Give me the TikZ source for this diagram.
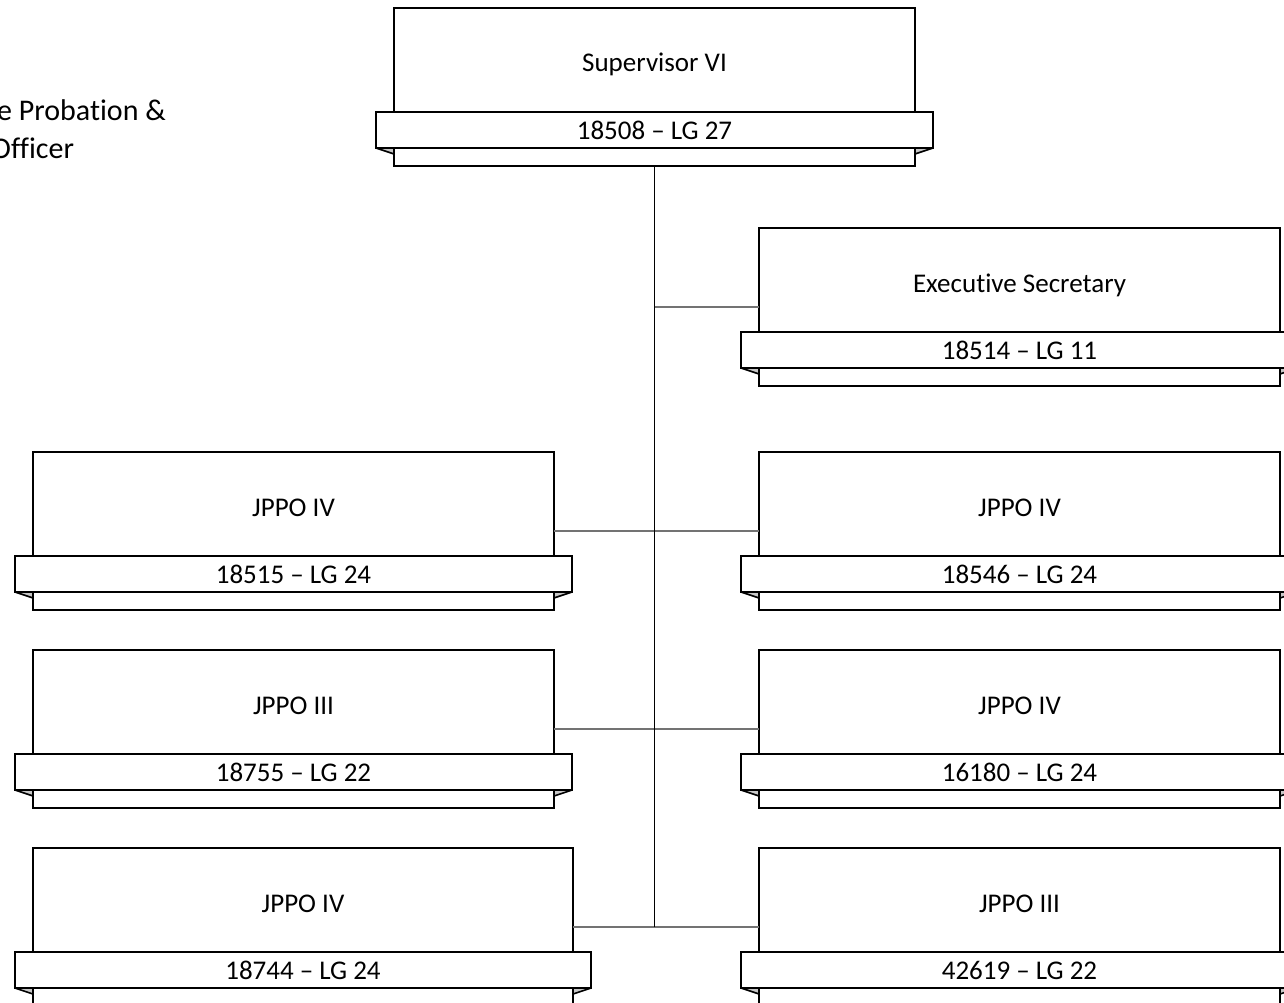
\documentclass[tikz,border=0pt]{standalone}
\usepackage{fontspec}
\setmainfont{Carlito}[Ligatures=NoCommon]
\newcommand{\orgfont}{\fontsize{27}{32}\selectfont}
\newcommand{\capfont}{\fontsize{30}{37}\selectfont}

\begin{document}
\begin{tikzpicture}[
    x=1pt, y=-1pt,
    mainbox/.style={rectangle, draw=black, line width=2.4pt, fill=white, minimum height=158, inner sep=0pt, outer sep=0pt},
    banner/.style={rectangle, draw=black, line width=2.4pt, fill=white, minimum height=36, inner sep=0pt, outer sep=0pt, font=\orgfont},
    title/.style={anchor=base, inner sep=0pt, font=\orgfont},
    fold/.style={fill=black!22, draw=black, line width=1.6pt, line join=round},
    trunkline/.style={draw=black, line width=1.9pt},
    link/.style={draw=black!55, line width=1.3pt}
]
\useasboundingbox (0,0) rectangle (1284,1003);
\clip (0,0) rectangle (1284,1003);

% Cut-off caption
\node[anchor=base west, inner sep=0pt, font=\capfont] (cap1) at (-3,121) {e Probation \&};
\node[anchor=base west, inner sep=0pt, font=\capfont] (cap2) at (-9,159) {Officer};

% Supervisor
\node[mainbox, minimum width=521] (sup) at (654.5,87) {};
\node[banner, minimum width=557] (sup-b) at (654.5,130) {18508 – LG 27};
\node[title] (sup-t) at (654.5,72) {Supervisor VI};

% Secretary
\node[mainbox, minimum width=521] (sec) at (1019.5,307) {};
\node[banner, minimum width=557] (sec-b) at (1019.5,350) {18514 – LG 11};
\node[title] (sec-t) at (1019.5,292) {Executive Secretary};

% Row 1
\node[mainbox, minimum width=521] (l1) at (293.5,531) {};
\node[banner, minimum width=557] (l1-b) at (293.5,574) {18515 – LG 24};
\node[title] (l1-t) at (293.5,516) {JPPO IV};
\node[mainbox, minimum width=521] (r1) at (1019.5,531) {};
\node[banner, minimum width=557] (r1-b) at (1019.5,574) {18546 – LG 24};
\node[title] (r1-t) at (1019.5,516) {JPPO IV};

% Row 2
\node[mainbox, minimum width=521] (l2) at (293.5,729) {};
\node[banner, minimum width=557] (l2-b) at (293.5,772) {18755 – LG 22};
\node[title] (l2-t) at (293.5,714) {JPPO III};
\node[mainbox, minimum width=521] (r2) at (1019.5,729) {};
\node[banner, minimum width=557] (r2-b) at (1019.5,772) {16180 – LG 24};
\node[title] (r2-t) at (1019.5,714) {JPPO IV};

% Row 3
\node[mainbox, minimum width=540] (l3) at (303,927) {};
\node[banner, minimum width=576] (l3-b) at (303,970) {18744 – LG 24};
\node[title] (l3-t) at (303,912) {JPPO IV};
\node[mainbox, minimum width=521] (r3) at (1019.5,927) {};
\node[banner, minimum width=557] (r3-b) at (1019.5,970) {42619 – LG 22};
\node[title] (r3-t) at (1019.5,912) {JPPO III};

% Ribbon folds
\foreach \b in {sup,sec,l1,r1,l2,r2,l3,r3} {
    \filldraw[fold] (\b-b.south west) -- (\b.west |- \b-b.south) -- ++(0,6) -- cycle;
    \filldraw[fold] (\b-b.south east) -- (\b.east |- \b-b.south) -- ++(0,6) -- cycle;
}

% Connectors
\draw[link] (l1.east) -- (r1.west);
\draw[link] (l2.east) -- (r2.west);
\draw[link] (l3.east) -- (r3.west);
\draw[trunkline] (sup.south) -- (sup.south |- l3.east) coordinate (trunk);
\draw[link] (trunk |- sec.west) -- (sec.west);

\end{tikzpicture}
\end{document}
